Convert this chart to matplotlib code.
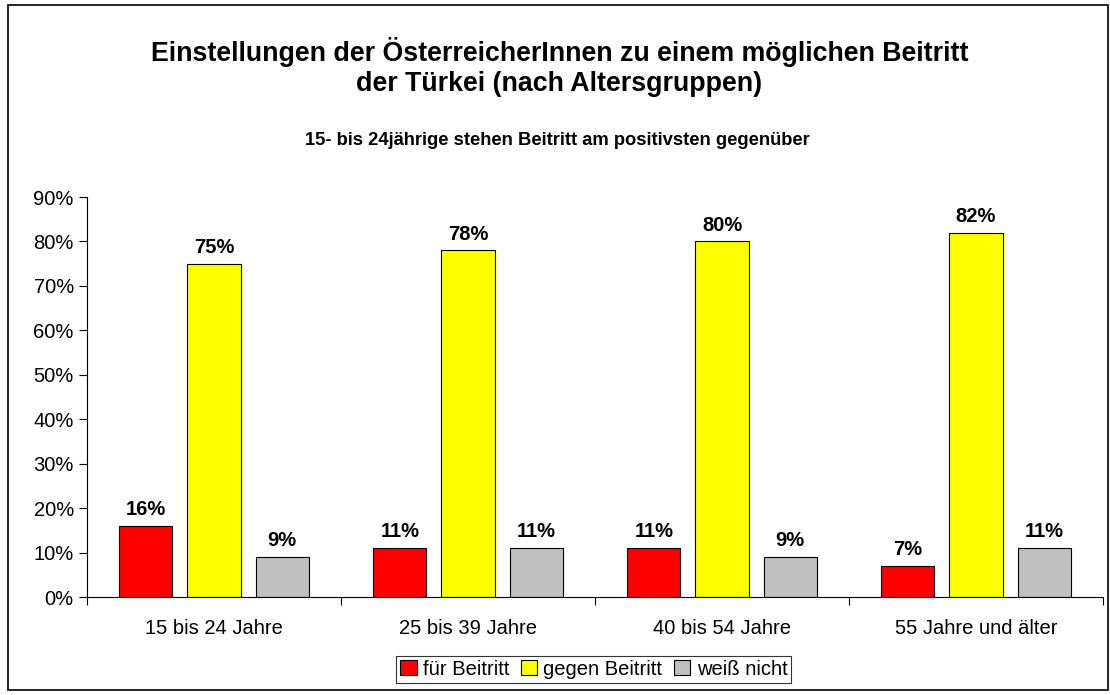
import matplotlib

matplotlib.use("Agg")
import matplotlib.pyplot as plt
import numpy as np
from matplotlib.patches import Rectangle

plt.rcParams["font.family"] = ["Liberation Sans", "DejaVu Sans"]

GROUPS = ["15 bis 24 Jahre", "25 bis 39 Jahre", "40 bis 54 Jahre", "55 Jahre und älter"]
SERIES = ["für Beitritt", "gegen Beitritt", "weiß nicht"]
FUER = [16, 11, 11, 7]
GEGEN = [75, 78, 80, 82]
WEISS = [9, 11, 9, 11]
COLORS = ["#ff0000", "#ffff00", "#c0c0c0"]

TITLE = "Einstellungen der ÖsterreicherInnen zu einem möglichen Beitritt\nder Türkei (nach Altersgruppen)"
SUBTITLE = "15- bis 24jährige stehen Beitritt am positivsten gegenüber"

FS = 14.5

fig = plt.figure(figsize=(11.1, 6.95), dpi=100)
ax = fig.add_axes([0.0784, 0.141, 0.9153, 0.5755])

x = np.arange(len(GROUPS))
bar_w, step = 0.209, 0.268
handles = []
for i, (vals, col, name) in enumerate(zip([FUER, GEGEN, WEISS], COLORS, SERIES)):
    pos = x + (i - 1) * step
    b = ax.bar(pos, vals, width=bar_w, color=col, edgecolor="black",
               linewidth=0.8, label=name)
    handles.append(b)
    for px, v in zip(pos, vals):
        ax.text(px, v + 1.5, f"{v}%", ha="center", va="bottom",
                fontsize=FS, fontweight="bold")

ax.set_xlim(-0.5, len(GROUPS) - 0.5)
ax.set_ylim(0, 90)
ax.set_yticks(range(0, 91, 10))
ax.set_yticklabels([f"{t}%" for t in range(0, 91, 10)], fontsize=FS)
ax.set_xticks(np.arange(-0.5, len(GROUPS), 1.0))
ax.set_xticklabels([])
ax.set_xticks(x, minor=True)
ax.set_xticklabels(GROUPS, minor=True, fontsize=FS)
ax.tick_params(axis="x", which="minor", length=0, pad=16)
ax.tick_params(axis="x", which="major", length=6, direction="out")
ax.tick_params(axis="y", length=6, direction="out")
for s in ("top", "right"):
    ax.spines[s].set_visible(False)
ax.spines["left"].set_linewidth(0.8)
ax.spines["bottom"].set_linewidth(0.8)

fig.text(0.504, 0.903, TITLE, ha="center", va="center", fontsize=19.3,
         fontweight="bold", linespacing=1.2)
fig.text(0.502, 0.798, SUBTITLE, ha="center", va="center", fontsize=13.2,
         fontweight="bold")

leg = fig.legend(handles=handles, loc="center", bbox_to_anchor=(0.535, 0.037),
                 ncol=3, frameon=True, fancybox=False, edgecolor="black",
                 fontsize=FS, handlelength=0.8, handleheight=0.8,
                 handletextpad=0.3, columnspacing=0.6, borderpad=0.2)
leg.get_frame().set_linewidth(0.8)

fig.add_artist(Rectangle((0.007, 0.007), 0.991, 0.986, transform=fig.transFigure,
                         fill=False, edgecolor="black", linewidth=1.2))

fig.savefig("out.png", dpi=100)
